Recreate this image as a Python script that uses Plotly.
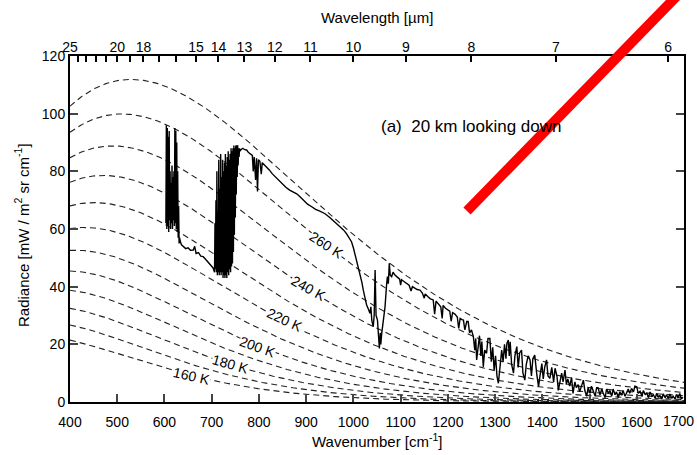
import numpy as np
import plotly.graph_objects as go

# ---------------- data ----------------
# isotherm temperatures of the dashed Planck curves [K]
temps = [270, 260, 250, 240, 230, 220, 210, 200, 190, 180, 170, 160]
# labelled isotherms: (label, wavenumber, radiance, angle)
label_text = ["260 K", "240 K", "220 K", "200 K", "180 K", "160 K"]
label_wn = [943, 904, 855, 798, 739, 658]
label_rad = [54.5, 39.5, 28.4, 19.1, 13.2, 9.0]
label_ang = [33, 29, 25, 20, 16, 13]

band1_wn = list(range(603, 633))
band1_rad = [62, 96, 60, 95, 61, 92, 59, 94, 63, 80, 60, 76, 62, 82, 60, 78, 63, 80,
             61, 95, 62, 94, 60, 90, 59, 80, 57, 68, 55, 57]
seg2_wn = [633, 636, 640, 645, 650, 655, 661, 664, 667, 672, 677, 682, 687, 692, 697, 700, 703]
seg2_rad = [56, 54.5, 53.9, 53.2, 53.5, 52.6, 52.7, 54, 51.5, 51.8, 50.6, 50.4, 49.5, 48.6, 47.8, 47, 46.5]
band2_wn = list(range(706, 761))
band2_rad = [45, 62, 46, 70, 45, 80, 44, 66, 45, 84, 44, 74, 45, 86, 44, 78, 45, 84, 43, 80,
             44, 83, 43, 86, 44, 82, 43, 85, 45, 87, 44, 84, 46, 86, 45, 88, 47, 87, 48, 88,
             52, 89, 58, 88, 64, 89, 72, 89, 78, 89, 82, 88, 85, 88, 87]
seg4_wn = [762, 766, 770, 774, 778, 782, 786, 788, 790, 793, 795, 797, 799, 802, 805, 807, 810,
           816, 822, 828, 835, 842, 850, 857, 865, 873, 880, 887, 895, 903, 911, 920, 929, 940,
           950, 960, 970, 979, 985, 990, 996, 1000, 1003, 1008, 1014, 1018, 1021, 1025, 1028,
           1031, 1035, 1037, 1039, 1042, 1044, 1046, 1048, 1051, 1053, 1055, 1057, 1058, 1060,
           1063, 1067, 1070, 1072, 1074, 1076, 1078, 1081, 1084, 1088, 1093, 1098, 1100, 1102,
           1107, 1113, 1118, 1122, 1125, 1130, 1135, 1141, 1146, 1150, 1152, 1158, 1163, 1169,
           1172, 1175, 1180, 1185, 1188, 1190, 1195, 1200, 1204, 1207, 1210, 1215, 1220, 1223,
           1226, 1230, 1233, 1236, 1240, 1243, 1246, 1250]
seg4_rad = [87.5, 88, 87.5, 87.4, 86.5, 86, 85.5, 80, 85, 77, 84.5, 73, 84, 83.5, 79, 83, 82.5,
            81.6, 80.5, 79.2, 78, 76.8, 75.5, 74.5, 73.5, 72.8, 72.2, 71.2, 69.8, 68.6, 67.8, 66.8,
            66.2, 65.3, 64, 62.6, 61.2, 59.7, 58.5, 57.3, 55.6, 53.5, 51.6, 48, 44.6, 41.5, 38.8,
            35.5, 33.6, 32.5, 30.8, 33, 28.4, 26.1, 30, 45.8, 30, 28.4, 22, 18.6, 24, 20, 23.8,
            28, 33, 40, 43.5, 41, 48.1, 44, 43.5, 45, 44, 43.3, 42.6, 40.5, 42.4,
            41.8, 41.2, 40.5, 38.5, 40, 39.5, 39, 38.8, 37.8, 36, 37.5, 36.5, 35.8, 35.4,
            30.5, 35, 34, 33, 29, 33.5, 32.5, 31.8, 31.5, 28, 31, 30.5, 29.5, 25.5,
            29, 28.6, 28.4, 25, 27.9, 27.9, 24, 25]
seg5_wn = [1254, 1257, 1259, 1261, 1264, 1267, 1270, 1272, 1275, 1278, 1282, 1285, 1289, 1292,
           1295, 1298, 1301, 1304, 1307, 1310, 1314, 1317, 1320, 1323, 1325, 1328, 1330, 1332,
           1335, 1339, 1342, 1346, 1349, 1352, 1356, 1359, 1363, 1366, 1370, 1374, 1377, 1380,
           1384, 1388, 1392, 1395, 1399, 1402, 1405, 1409, 1412, 1416, 1420, 1424, 1427, 1431,
           1434, 1437, 1441, 1444, 1448, 1451, 1454, 1458, 1462, 1465, 1469, 1472, 1476, 1479,
           1483, 1487, 1490, 1494, 1497, 1501, 1504, 1508, 1512, 1515, 1518, 1522, 1526, 1529,
           1533, 1536, 1540, 1543, 1547, 1550, 1554, 1557, 1561, 1564, 1568, 1571, 1575, 1578,
           1582, 1585, 1589, 1593, 1596, 1600, 1603, 1607, 1611, 1614, 1618, 1621, 1625, 1628,
           1632, 1635, 1639, 1642, 1646, 1649, 1653, 1656, 1660, 1663, 1667, 1670, 1674, 1677,
           1681, 1684, 1688, 1691, 1694, 1698]
seg5_rad = [22.7, 18, 22, 14.6, 20, 23, 16, 21, 12.2, 18, 16.9, 22, 22, 14, 19, 11, 16, 9, 6.5,
            12, 18, 14, 20, 15, 20.3, 21.5, 16, 20.9, 13, 10, 16, 19.2, 12, 17, 18, 10, 7.6, 13,
            16, 14.6, 9, 15, 16.3, 10, 5.3, 9, 13.3, 8, 12, 14.6, 9, 8.2, 12, 7, 11.7, 9, 4, 6.6,
            10, 7, 11.1, 6, 8, 5.5, 8.5, 3, 7, 5, 6, 3.5, 6, 7.6, 4, 2, 5, 3, 5.5, 4, 2, 5, 5,
            2.5, 4.5, 3, 1.5, 4.5, 3, 4, 2, 4.5, 2.5, 3.5, 1.5, 3.5, 2.4, 4, 2, 3, 4.5, 3, 4.7,
            3.5, 5.5, 5.3, 3, 3.7, 2, 4, 2.5, 3.2, 1.5, 3.5, 2, 2.6, 1.2, 3, 1.8, 2.2, 1, 2.8,
            1.5, 2.5, 1.2, 2.8, 1.3, 2, 1, 2.6, 1.5, 3, 1.2, 1.6]

spec_wn = band1_wn + seg2_wn + band2_wn + seg4_wn + seg5_wn
spec_rad = band1_rad + seg2_rad + band2_rad + seg4_rad + seg5_rad

# axis ticks
wn_ticks = list(range(400, 1601, 100))
wn_last = 1700
rad_ticks = list(range(0, 121, 20))
wl_ticks_um = [25, 24, 23, 22, 21, 20, 19, 18, 17, 16, 15, 14, 13, 12, 11, 10, 9, 8, 7, 6]
wl_labelled = [25, 20, 18, 15, 14, 13, 12, 11, 10, 9, 8, 7, 6]

# ---------------- figure ----------------
FONT = "Liberation Sans, Arial, sans-serif"
C1, C2 = 1.191042e-5, 1.4387770  # Planck radiation constants (mW, m^-2, sr^-1, cm^-1 units)
nu = np.linspace(400, 1700, 400)

fig = go.Figure()
for T in temps:
    B = C1 * nu**3 / (np.exp(C2 * nu / T) - 1.0)
    fig.add_trace(go.Scatter(x=nu, y=B, mode="lines",
                             line=dict(color="#222", width=1.1, dash="6px,4px"),
                             hoverinfo="skip", showlegend=False))

fig.add_trace(go.Scatter(x=spec_wn, y=spec_rad, mode="lines",
                         line=dict(color="black", width=1.4),
                         showlegend=False))

# invisible trace to activate the top (wavelength) axis
fig.add_trace(go.Scatter(x=[400], y=[0], xaxis="x2", mode="markers",
                         marker=dict(size=1, opacity=0), showlegend=False, hoverinfo="skip"))

for t, x, y, a in zip(label_text, label_wn, label_rad, label_ang):
    fig.add_annotation(x=x, y=y, text=t, showarrow=False, textangle=a,
                       font=dict(family=FONT, size=14, color="black"),
                       bgcolor="white", borderpad=0)

fig.add_annotation(xref="paper", yref="paper", x=0.653, y=0.829,
                   text="(a)  20 km looking down", showarrow=False,
                   font=dict(family=FONT, size=17, color="black"))

# last bottom tick label, kept inside the page as in the reference
fig.add_annotation(xref="paper", yref="paper", x=1.0195, y=-0.055,
                   xanchor="right", yanchor="middle", text=str(wn_last), showarrow=False,
                   font=dict(family=FONT, size=14, color="black"))

fig.add_annotation(xref="paper", yref="paper", x=0.50, y=-0.11,
                   xanchor="center", yanchor="middle",
                   text="Wavenumber [cm<sup>-1</sup>]", showarrow=False,
                   font=dict(family=FONT, size=15, color="black"))
fig.add_annotation(xref="paper", yref="paper", x=0.50, y=1.11,
                   xanchor="center", yanchor="middle",
                   text="Wavelength [µm]", showarrow=False,
                   font=dict(family=FONT, size=15, color="black"))
fig.add_annotation(xref="paper", yref="paper", x=-0.078, y=0.483,
                   xanchor="center", yanchor="middle",
                   text="Radiance [mW / m<sup>2</sup> sr cm<sup>-1</sup>]", showarrow=False,
                   textangle=-90, font=dict(family=FONT, size=15, color="black"))

fig.add_shape(type="line", xref="paper", yref="paper",
              x0=0.6466, y0=0.552, x1=0.992, y1=1.18,
              line=dict(color="#ff0000", width=10))

fig.update_layout(
    width=697, height=455,
    margin=dict(l=70, r=13, t=56, b=53, autoexpand=False),
    paper_bgcolor="white", plot_bgcolor="white",
    font=dict(family=FONT, size=14, color="black"),
    xaxis=dict(range=[400, 1700], tickmode="array", tickvals=wn_ticks,
               ticks="inside", ticklen=8,
               tickwidth=2, showline=True, linewidth=2, linecolor="black",
               mirror=True, showgrid=False, zeroline=False, automargin=False,
               ticklabeloverflow="allow", ticklabelstandoff=6,
               tickfont=dict(family=FONT, size=14)),
    xaxis2=dict(range=[400, 1700], overlaying="x", side="top",
                tickmode="array",
                tickvals=[10000.0 / w for w in wl_labelled],
                ticktext=[str(w) for w in wl_labelled],
                ticks="inside", ticklen=6, tickwidth=1.5, tickcolor="black",
                minor=dict(tickmode="array",
                           tickvals=[10000.0 / w for w in wl_ticks_um if w not in wl_labelled],
                           ticks="inside", ticklen=6, tickwidth=1.5, tickcolor="black"),
                showline=False, showgrid=False, zeroline=False, automargin=False,
                ticklabeloverflow="allow", ticklabelstandoff=0,
                tickfont=dict(family=FONT, size=14)),
    yaxis=dict(range=[0, 120], tickvals=rad_ticks, ticks="inside", ticklen=8,
               tickwidth=2, showline=True, linewidth=2, linecolor="black",
               mirror="ticks", showgrid=False, zeroline=False, automargin=False,
               tickfont=dict(family=FONT, size=14)),
)

fig.write_html("out.html")
